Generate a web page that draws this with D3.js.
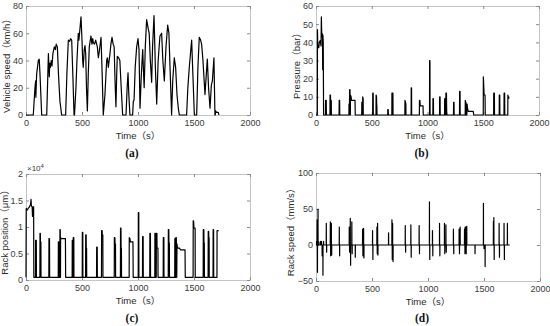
<!DOCTYPE html>
<html>
<head>
<meta charset="utf-8">
<script src="https://cdn.jsdelivr.net/npm/d3@7"></script>
<style>
body { margin: 0; background: #fff; }
text { font-family: "Liberation Sans", Arial, "Noto Sans CJK SC", sans-serif; }
.tick-lbl { font-size: 9px; fill: #3a3a3a; }
.axis-lbl { font-size: 9.5px; fill: #2a2a2a; }
.panel-lbl { font-family: "Liberation Serif", "DejaVu Serif", serif; font-weight: bold; font-size: 11.5px; fill: #111; }
</style>
</head>
<body>
<svg id="chart" width="550" height="326"></svg>
<script>
var timeTicks = [0, 500, 1000, 1500, 2000];

// (a) vehicle speed, km/h
var speedT = [0, 65, 80, 86, 88, 95, 110, 118, 125, 140, 185, 195, 200, 208, 212, 218, 225, 232, 240, 253, 262, 270, 280, 290, 303, 308, 318, 354, 365, 378, 390, 398, 408, 418, 429, 433, 446, 455, 467, 472, 476, 491, 500, 506, 511, 520, 527, 533, 540, 548, 556, 565, 580, 589, 596, 601, 612, 622, 637, 646, 655, 670, 680, 690, 705, 720, 727, 735, 750, 758, 768, 778, 787, 795, 803, 810, 815, 827, 838, 850, 863, 893, 903, 911, 918, 928, 952, 958, 965, 975, 988, 1000, 1009, 1018, 1030, 1042, 1050, 1055, 1065, 1077, 1092, 1100, 1110, 1122, 1130, 1143, 1155, 1167, 1180, 1196, 1211, 1222, 1235, 1250, 1265, 1276, 1288, 1300, 1310, 1324, 1336, 1348, 1360, 1369, 1434, 1445, 1458, 1479, 1490, 1503, 1524, 1535, 1547, 1559, 1568, 1580, 1598, 1610, 1619, 1630, 1643, 1655, 1664, 1678, 1687, 1690, 1693, 1700, 1717, 1722];
var speedV = [0, 0, 20, 25, 13, 30, 40, 41, 30, 0, 0, 30, 45, 28, 38, 35, 40, 36, 45, 50, 48, 52, 50, 30, 10, 7, 0, 0, 30, 55, 54, 56, 55, 30, 0, 0, 20, 40, 60, 55, 58, 72, 55, 40, 35, 48, 51, 45, 20, 3, 30, 50, 58, 52, 56, 53, 52, 55, 50, 42, 47, 57, 30, 0, 15, 40, 42, 35, 45, 52, 57, 52, 50, 25, 6, 30, 43, 42, 40, 20, 0, 0, 20, 31, 15, 0, 0, 10, 11, 35, 50, 56, 48, 5, 30, 48, 30, 20, 50, 70, 63, 60, 40, 24, 50, 73, 35, 8, 40, 58, 60, 40, 25, 50, 66, 60, 30, 0, 25, 42, 35, 15, 5, 0, 0, 20, 35, 55, 30, 0, 0, 35, 57, 55, 52, 40, 15, 30, 41, 20, 5, 22, 25, 42, 0, 0, 3, 2, 2, 0];

// (b) pressure, bar
var pressT = [0, 12, 13, 16, 22, 25, 30, 38, 45, 48, 52, 55, 58, 60, 62, 65, 68, 85, 86, 92, 93, 125, 126, 130, 131, 133, 134, 137, 138, 207, 208, 212, 213, 295, 296, 300, 302, 305, 306, 308, 309, 315, 318, 350, 352, 410, 411, 415, 416, 418, 419, 423, 424, 508, 509, 513, 514, 538, 539, 543, 544, 546, 547, 643, 644, 648, 649, 680, 681, 690, 691, 797, 798, 803, 806, 807, 853, 854, 857, 858, 927, 928, 932, 935, 960, 962, 1018, 1019, 1022, 1023, 1048, 1049, 1053, 1054, 1108, 1109, 1113, 1114, 1153, 1154, 1158, 1159, 1164, 1165, 1170, 1172, 1175, 1233, 1234, 1238, 1239, 1287, 1288, 1292, 1293, 1338, 1339, 1342, 1343, 1345, 1348, 1350, 1353, 1355, 1358, 1362, 1365, 1410, 1415, 1500, 1501, 1505, 1508, 1516, 1518, 1593, 1594, 1600, 1601, 1643, 1644, 1648, 1649, 1686, 1687, 1692, 1693, 1720, 1721, 1725, 1728, 1731];
var pressV = [0, 0, 47, 37, 38, 37, 40, 41, 38, 54, 43, 45, 44, 25, 44, 40, 0, 0, 8, 8, 0, 0, 11, 11, 0, 0, 8, 8, 0, 0, 8, 8, 0, 0, 6, 6, 14, 14, 0, 0, 11, 10, 8, 8, 0, 0, 7, 7, 0, 0, 10, 9, 0, 0, 12, 12, 0, 0, 11, 10, 6, 5, 0, 0, 3, 3, 0, 0, 12, 12, 0, 0, 8, 7, 6, 0, 0, 15, 15, 0, 0, 8, 8, 5, 5, 0, 0, 30, 30, 0, 0, 9, 9, 0, 0, 10, 10, 0, 0, 9, 9, 0, 0, 12, 12, 2, 0, 0, 7, 7, 0, 0, 13, 13, 0, 0, 8, 7, 0, 7, 0, 6, 0, 6, 4, 3, 2, 2, 0, 0, 21, 15, 11, 11, 0, 0, 12, 12, 0, 0, 11, 11, 0, 0, 12, 12, 0, 0, 11, 9, 10, 9];

// (c) rack position, x10^4 um
var posT = [0, 2, 10, 20, 30, 40, 45, 48, 55, 58, 62, 68, 70, 85, 86, 92, 93, 124, 125, 128, 129, 133, 134, 204, 205, 210, 211, 288, 289, 293, 294, 302, 303, 306, 307, 308, 309, 315, 352, 354, 412, 413, 418, 419, 421, 422, 427, 428, 502, 503, 507, 508, 532, 533, 537, 538, 541, 542, 630, 631, 636, 637, 674, 675, 680, 681, 686, 687, 788, 789, 794, 795, 799, 800, 843, 844, 848, 849, 852, 853, 921, 922, 928, 932, 955, 957, 1002, 1003, 1007, 1008, 1040, 1041, 1046, 1047, 1105, 1106, 1111, 1112, 1150, 1151, 1155, 1156, 1163, 1164, 1169, 1170, 1178, 1179, 1225, 1226, 1231, 1232, 1270, 1271, 1275, 1276, 1280, 1281, 1328, 1329, 1333, 1334, 1337, 1338, 1342, 1343, 1346, 1348, 1352, 1358, 1370, 1380, 1420, 1422, 1492, 1493, 1497, 1500, 1510, 1511, 1582, 1583, 1588, 1589, 1592, 1593, 1626, 1627, 1631, 1632, 1635, 1636, 1670, 1671, 1675, 1676, 1705, 1706, 1720];
var posV = [0.05, 1.35, 1.32, 1.35, 1.38, 1.42, 1.52, 1.4, 1.38, 1.2, 1.38, 1.38, 0.05, 0.05, 0.75, 0.75, 0.05, 0.05, 0.88, 0.88, 0.72, 0.72, 0.05, 0.05, 0.78, 0.78, 0.05, 0.05, 0.72, 0.72, 0.05, 0.05, 0.95, 0.95, 0.05, 0.05, 0.8, 0.78, 0.78, 0.05, 0.05, 0.75, 0.75, 0.05, 0.05, 0.8, 0.8, 0.05, 0.05, 0.9, 0.9, 0.05, 0.05, 0.85, 0.85, 0.6, 0.6, 0.05, 0.05, 0.62, 0.62, 0.05, 0.05, 0.93, 0.93, 0.85, 0.85, 0.05, 0.05, 0.8, 0.8, 0.68, 0.68, 0.05, 0.05, 0.98, 0.98, 0.6, 0.6, 0.05, 0.05, 0.8, 0.78, 0.72, 0.72, 0.05, 0.05, 1.27, 1.27, 0.05, 0.05, 0.82, 0.82, 0.05, 0.05, 0.88, 0.88, 0.05, 0.05, 0.88, 0.88, 0.05, 0.05, 0.88, 0.88, 0.6, 0.6, 0.05, 0.05, 0.8, 0.8, 0.05, 0.05, 0.95, 0.95, 0.7, 0.7, 0.05, 0.05, 0.78, 0.78, 0.05, 0.05, 0.8, 0.8, 0.68, 0.05, 0.68, 0.62, 0.6, 0.6, 0.57, 0.57, 0.05, 0.05, 1.12, 1.1, 0.98, 0.98, 0.05, 0.05, 0.95, 0.95, 0.7, 0.7, 0.05, 0.05, 0.92, 0.92, 0.8, 0.8, 0.05, 0.05, 0.95, 0.95, 0.05, 0.05, 0.93, 0.93];

// (d) rack speed spikes, mm/s
var rackSpT = [5, 10, 13, 18, 25, 40, 50, 55, 62, 68, 92, 95, 128, 131, 137, 140, 208, 211, 297, 300, 306, 309, 320, 323, 351, 416, 419, 425, 428, 505, 508, 544, 547, 550, 553, 648, 678, 681, 684, 688, 797, 800, 847, 850, 921, 924, 1013, 1016, 1040, 1043, 1103, 1106, 1147, 1150, 1160, 1163, 1227, 1230, 1278, 1281, 1287, 1326, 1330, 1332, 1338, 1341, 1346, 1420, 1495, 1500, 1510, 1584, 1588, 1591, 1635, 1638, 1679, 1682, 1709];
var rackSpV = [5, 35, -38, 50, 4, 5, 5, -15, -42, 5, 30, -10, 32, -15, 30, -14, 25, -15, 25, -10, 37, -28, 32, -12, -17, 22, -15, 23, -18, 20, -20, 25, -12, 30, -14, 17, 35, -20, 30, -23, 27, -10, 28, -17, 27, -12, 60, -20, 20, -15, 30, -15, 30, -12, 28, -10, 22, -12, 22, -12, 25, 22, -12, 25, 25, -12, 26, -12, 58, -5, -30, 33, 38, -20, 30, -17, 30, -20, 30];
var rackSpEnd = 1730;

function pairs(ts, vs) {
	return ts.map(function (t, i) { return { x: t, y: vs[i] }; });
}

function spikes(ts, vs, tEnd) {
	var pts = [{ x: 0, y: 0 }];
	ts.forEach(function (t, i) {
		pts.push({ x: t - 0.6, y: 0 });
		pts.push({ x: t, y: vs[i] });
		pts.push({ x: t + 0.6, y: 0 });
	});
	pts.push({ x: tEnd, y: 0 });
	return pts;
}

var svg = d3.select('#chart');

function Panel(opts) {
	var width = opts.w, height = opts.h,
		g = svg.append('g').attr('transform', 'translate(' + opts.left + ',' + opts.top + ')');

	var scaleX = d3.scaleLinear().domain([0, 2000]).range([0, width]);
	var scaleY = d3.scaleLinear().domain(opts.yDomain).range([height, 0]);

	// box
	g.append('rect')
		.attr('x', 0).attr('y', 0)
		.attr('width', width).attr('height', height)
		.attr('fill', 'none')
		.attr('stroke', '#c4c4c4')
		.attr('stroke-width', 1)
		.attr('shape-rendering', 'crispEdges');

	var xAxis = g.append('g')
		.attr('transform', 'translate(0,' + height + ')')
		.call(d3.axisBottom(scaleX).tickValues(timeTicks).tickSize(-3).tickPadding(5).tickFormat(d3.format('d')));
	var yAxis = g.append('g')
		.call(d3.axisLeft(scaleY).tickValues(opts.yTicks).tickSize(-3).tickPadding(3)
			.tickFormat(d3.format('')));
	var xTop = g.append('g')
		.call(d3.axisTop(scaleX).tickValues(timeTicks).tickSize(-3).tickFormat(''));
	var yRight = g.append('g')
		.attr('transform', 'translate(' + width + ',0)')
		.call(d3.axisRight(scaleY).tickValues(opts.yTicks).tickSize(-3).tickFormat(''));

	[xAxis, yAxis, xTop, yRight].forEach(function (a) {
		a.select('.domain').remove();
		a.selectAll('line').attr('stroke', '#8a8a8a');
		a.selectAll('text').attr('class', 'tick-lbl').attr('fill', null);
	});

	g.append('path')
		.datum(opts.data)
		.attr('fill', 'none')
		.attr('stroke', '#000')
		.attr('stroke-width', 1.2)
		.attr('stroke-linejoin', 'round')
		.attr('d', d3.line().x(function (d) { return scaleX(d.x); }).y(function (d) { return scaleY(d.y); }));

	g.append('text')
		.attr('class', 'axis-lbl')
		.attr('transform', 'translate(' + (-opts.yLblOff) + ',' + (height / 2 + 3) + ') rotate(-90)')
		.attr('text-anchor', 'middle')
		.text(opts.yLabel);

	g.append('text')
		.attr('class', 'axis-lbl')
		.attr('x', width / 2)
		.attr('y', height + 24)
		.attr('text-anchor', 'middle')
		.text('Time（s）');

	g.append('text')
		.attr('class', 'panel-lbl')
		.attr('x', width / 2 - 6)
		.attr('y', opts.panelY)
		.attr('text-anchor', 'middle')
		.text(opts.panel);

	if (opts.exponent) {
		g.append('text')
			.attr('class', 'tick-lbl')
			.attr('x', 1)
			.attr('y', -3)
			.style('font-size', '8px')
			.text('×10')
			.append('tspan')
			.attr('dy', -3)
			.style('font-size', '6px')
			.text(opts.exponent);
	}
}

new Panel({ left: 26, top: 6, w: 224, h: 109, yDomain: [0, 80], yTicks: [0, 20, 40, 60, 80],
	data: pairs(speedT, speedV), yLabel: 'Vehicle speed（km/h）', yLblOff: 16, panel: '(a)', panelY: 151 });
new Panel({ left: 316, top: 6, w: 223, h: 109, yDomain: [0, 60], yTicks: [0, 10, 20, 30, 40, 50, 60],
	data: pairs(pressT, pressV), yLabel: 'Pressure（bar）', yLblOff: 16, panel: '(b)', panelY: 151 });
new Panel({ left: 26, top: 174, w: 224, h: 106, yDomain: [0, 2], yTicks: [0, 0.5, 1, 1.5, 2],
	data: pairs(posT, posV), yLabel: 'Rack position（μm）', yLblOff: 18, panel: '(c)', panelY: 148, exponent: '4' });
new Panel({ left: 316, top: 173, w: 224, h: 108, yDomain: [-50, 100], yTicks: [-50, 0, 50, 100],
	data: spikes(rackSpT, rackSpV, rackSpEnd), yLabel: 'Rack speed（mm/s）', yLblOff: 22, panel: '(d)', panelY: 149 });
</script>
</body>
</html>
